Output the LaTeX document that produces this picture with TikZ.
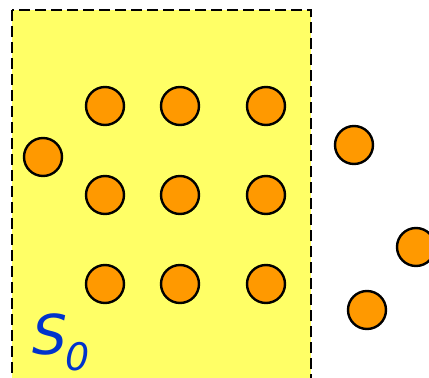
\documentclass[tikz,border=0pt]{standalone}
\usepackage{fontspec}
\setmainfont{DejaVu Sans}
\usepackage{tikz}
\definecolor{setfill}{HTML}{FFFF66}
\definecolor{dotfill}{HTML}{FF9900}
\definecolor{labelblue}{HTML}{0033CC}

\begin{document}
\begin{tikzpicture}[
    x=1pt, y=-1pt,
    dot/.style={circle, draw, line width=2.4pt, fill=dotfill, inner sep=0pt, minimum size=38pt},
    setbox/.style={draw, fill=setfill, line width=2.4pt, dash pattern=on 11pt off 5pt}
]
\clip (0,0) rectangle (429,378);
\draw[setbox] (12,10) rectangle (311,400);
% points inside S_0
\node[dot] (p1) at (43,157) {};
\node[dot] (p2) at (105,106) {};
\node[dot] (p3) at (180,106) {};
\node[dot] (p4) at (266,106) {};
\node[dot] (p5) at (105,195) {};
\node[dot] (p6) at (180,195) {};
\node[dot] (p7) at (266,195) {};
\node[dot] (p8) at (105,284) {};
\node[dot] (p9) at (180,284) {};
\node[dot] (p10) at (266,284) {};
% points outside
\node[dot] (q1) at (354,145) {};
\node[dot] (q2) at (416,247) {};
\node[dot] (q3) at (367,310) {};
\node[text=labelblue, inner sep=0pt, anchor=base west] (s0) at (32,354)
    {\fontsize{55}{55}\selectfont\itshape S\hspace{-2pt}\raisebox{-16pt}{\fontsize{38}{38}\selectfont 0}};
\end{tikzpicture}
\end{document}
